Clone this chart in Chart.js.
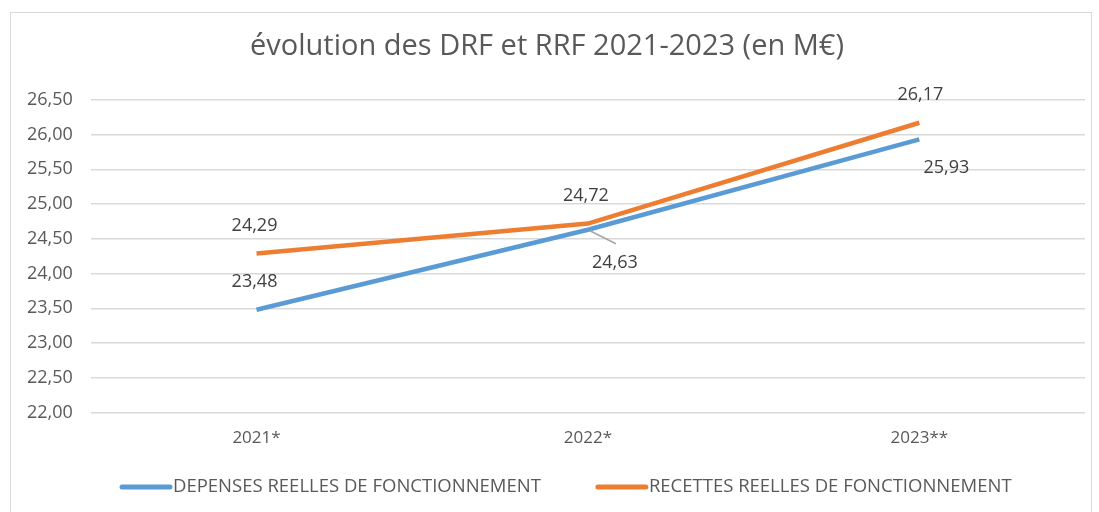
<!DOCTYPE html>
<html>
<head>
<meta charset="utf-8">
<script src="https://cdn.jsdelivr.net/npm/chart.js@4"></script>
<style>
  html, body { margin: 0; padding: 0; background: #fff; }
  #box { position: absolute; left: 10px; top: 12px; width: 1080px; height: 520px; border: 1px solid #d9d9d9; }
  #chart { position: absolute; left: 0; top: 0; }
</style>
</head>
<body>
<div id="box"></div>
<canvas id="chart" width="1099" height="512"></canvas>
<script>
const categories = ["2021*", "2022*", "2023**"];
const depenses = [23.48, 24.63, 25.93];
const recettes = [24.29, 24.72, 26.17];
const seriesNames = ["DEPENSES REELLES DE FONCTIONNEMENT", "RECETTES REELLES DE FONCTIONNEMENT"];
const yMin = 22;
const yMax = 26.5;
const yStep = 0.5;

const fmt = (v) => v.toFixed(2).replace(".", ",");

// where each value label sits, relative to its point
const labelOffsets = [
  [[-2, -28], [27, 33], [27, 28]],
  [[-2, -28], [-2, -28], [1, -28]],
];

const valueLabels = {
  id: "valueLabels",
  afterDatasetsDraw(chart) {
    const ctx = chart.ctx;
    ctx.save();
    ctx.font = "18px 'Open Sans'";
    ctx.fillStyle = "#404040";
    ctx.textAlign = "center";
    ctx.textBaseline = "middle";
    chart.data.datasets.forEach((ds, i) => {
      const meta = chart.getDatasetMeta(i);
      meta.data.forEach((pt, j) => {
        const [dx, dy] = labelOffsets[i][j];
        if (i === 0 && j === 1) {
          // leader line
          ctx.strokeStyle = "#a6a6a6";
          ctx.lineWidth = 1.5;
          ctx.beginPath();
          ctx.moveTo(pt.x + 2, pt.y + 1);
          ctx.lineTo(pt.x + 28, pt.y + 14);
          ctx.stroke();
        }
        ctx.fillText(fmt(ds.data[j]), pt.x + dx, pt.y + dy);
      });
    });
    ctx.restore();
  },
};

// legend drawn by hand so the spacing matches
const lineLegend = {
  id: "lineLegend",
  afterDraw(chart) {
    const ctx = chart.ctx;
    ctx.save();
    ctx.font = "18.5px 'Open Sans'";
    ctx.textBaseline = "middle";
    let x = 120;
    const y = 487;
    chart.data.datasets.forEach((ds) => {
      ctx.strokeStyle = ds.borderColor;
      ctx.lineWidth = 5;
      ctx.lineCap = "round";
      ctx.beginPath();
      ctx.moveTo(x + 2, y);
      ctx.lineTo(x + 50, y);
      ctx.stroke();
      ctx.fillStyle = "#595959";
      ctx.fillText(ds.label, x + 53, y);
      x += 53 + ctx.measureText(ds.label).width + 55;
    });
    ctx.restore();
  },
};

new Chart(document.getElementById("chart"), {
  type: "line",
  data: {
    labels: categories,
    datasets: [
      {
        label: seriesNames[0],
        data: depenses,
        borderColor: "#5b9bd5",
        backgroundColor: "#5b9bd5",
        borderWidth: 4.5,
        pointRadius: 0,
        tension: 0,
      },
      {
        label: seriesNames[1],
        data: recettes,
        borderColor: "#ed7d31",
        backgroundColor: "#ed7d31",
        borderWidth: 4.5,
        pointRadius: 0,
        tension: 0,
      },
    ],
  },
  options: {
    responsive: false,
    animation: false,
    layout: { padding: { left: 9, right: 14, top: 14, bottom: 57 } },
    plugins: {
      title: {
        display: true,
        text: "évolution des DRF et RRF 2021-2023 (en M€)",
        color: "#595959",
        font: { family: "'Open Sans'", size: 29, weight: "normal" },
        padding: { top: 15, bottom: 36 },
      },
      legend: { display: false },
      tooltip: { enabled: false },
    },
    scales: {
      x: {
        offset: true,
        grid: { display: false },
        border: { display: false },
        ticks: {
          color: "#595959",
          font: { family: "'Open Sans'", size: 17 },
          padding: 7,
        },
      },
      y: {
        min: yMin,
        max: yMax,
        grid: { color: "#d9d9d9", lineWidth: 1.5, drawTicks: false },
        border: { display: false },
        ticks: {
          stepSize: yStep,
          color: "#595959",
          font: { family: "'Open Sans'", size: 18 },
          padding: 18,
          callback: (v) => fmt(v),
        },
      },
    },
  },
  plugins: [valueLabels, lineLegend],
});
</script>
</body>
</html>
